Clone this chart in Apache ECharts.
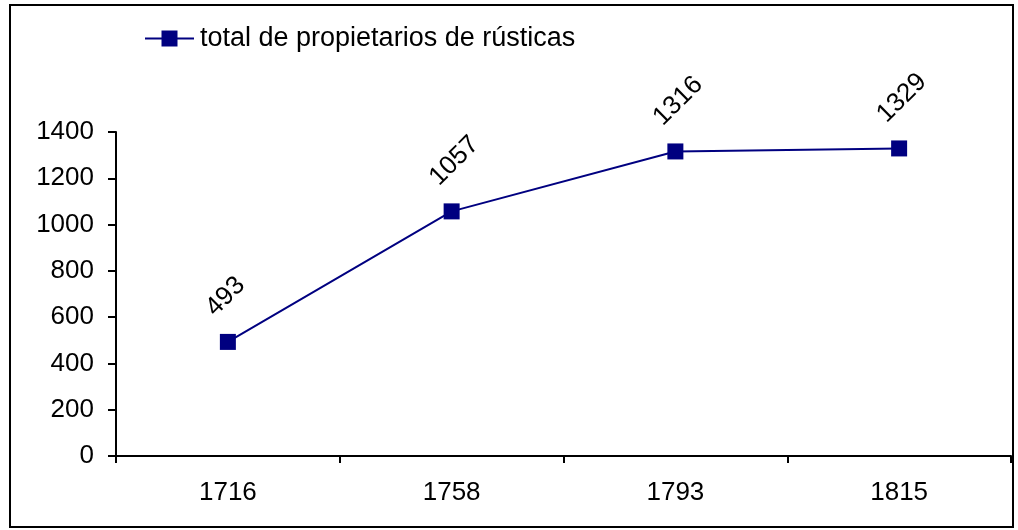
<!DOCTYPE html>
<html>
<head>
<meta charset="utf-8">
<script src="https://cdn.jsdelivr.net/npm/echarts@6/dist/echarts.min.js"></script>
<style>
  html, body { margin: 0; padding: 0; background: #fff; }
  #chart { width: 1018px; height: 530px; }
</style>
</head>
<body>
<div id="chart"></div>
<script>
  var years = ['1716', '1758', '1793', '1815'];
  var propietarios = [493, 1057, 1316, 1329];
  var seriesName = 'total de propietarios de rústicas';

  var myChart = echarts.init(document.getElementById('chart'));
  var option = {
    animation: false,
    textStyle: { fontFamily: 'Liberation Sans, Arial, sans-serif' },
    graphic: [{
      type: 'rect',
      shape: { x: 10, y: 5, width: 1003, height: 522 },
      style: { fill: 'none', stroke: '#000', lineWidth: 2 }
    }],
    legend: {
      left: 139,
      top: 20,
      itemWidth: 49,
      itemHeight: 20,
      textStyle: { fontSize: 27, color: '#000', padding: [0, 0, 0, 1] },
      data: [seriesName]
    },
    grid: { left: 116, right: 7, top: 132, bottom: 74 },
    xAxis: {
      type: 'category',
      data: years,
      boundaryGap: true,
      axisLine: { lineStyle: { color: '#000', width: 2 } },
      axisTick: { show: true, length: 7, lineStyle: { color: '#000', width: 2 } },
      axisLabel: { fontSize: 26, color: '#000', margin: 24 }
    },
    yAxis: {
      type: 'value',
      min: 0,
      max: 1400,
      interval: 200,
      splitLine: { show: false },
      axisLine: { show: true, lineStyle: { color: '#000', width: 2 } },
      axisTick: { show: true, length: 8, lineStyle: { color: '#000', width: 2 } },
      axisLabel: { fontSize: 26, color: '#000', margin: 22, formatter: function (v) { return String(v); } }
    },
    series: [{
      name: seriesName,
      type: 'line',
      data: propietarios,
      symbol: 'rect',
      symbolSize: 16,
      lineStyle: { color: '#000080', width: 2 },
      itemStyle: { color: '#000080' },
      label: {
        show: true,
        position: 'top',
        distance: 0,
        rotate: 45,
        align: 'left',
        verticalAlign: 'middle',
        offset: [3, -28],
        fontSize: 26,
        color: '#000'
      }
    }]
  };
  option && myChart.setOption(option);
</script>
</body>
</html>
